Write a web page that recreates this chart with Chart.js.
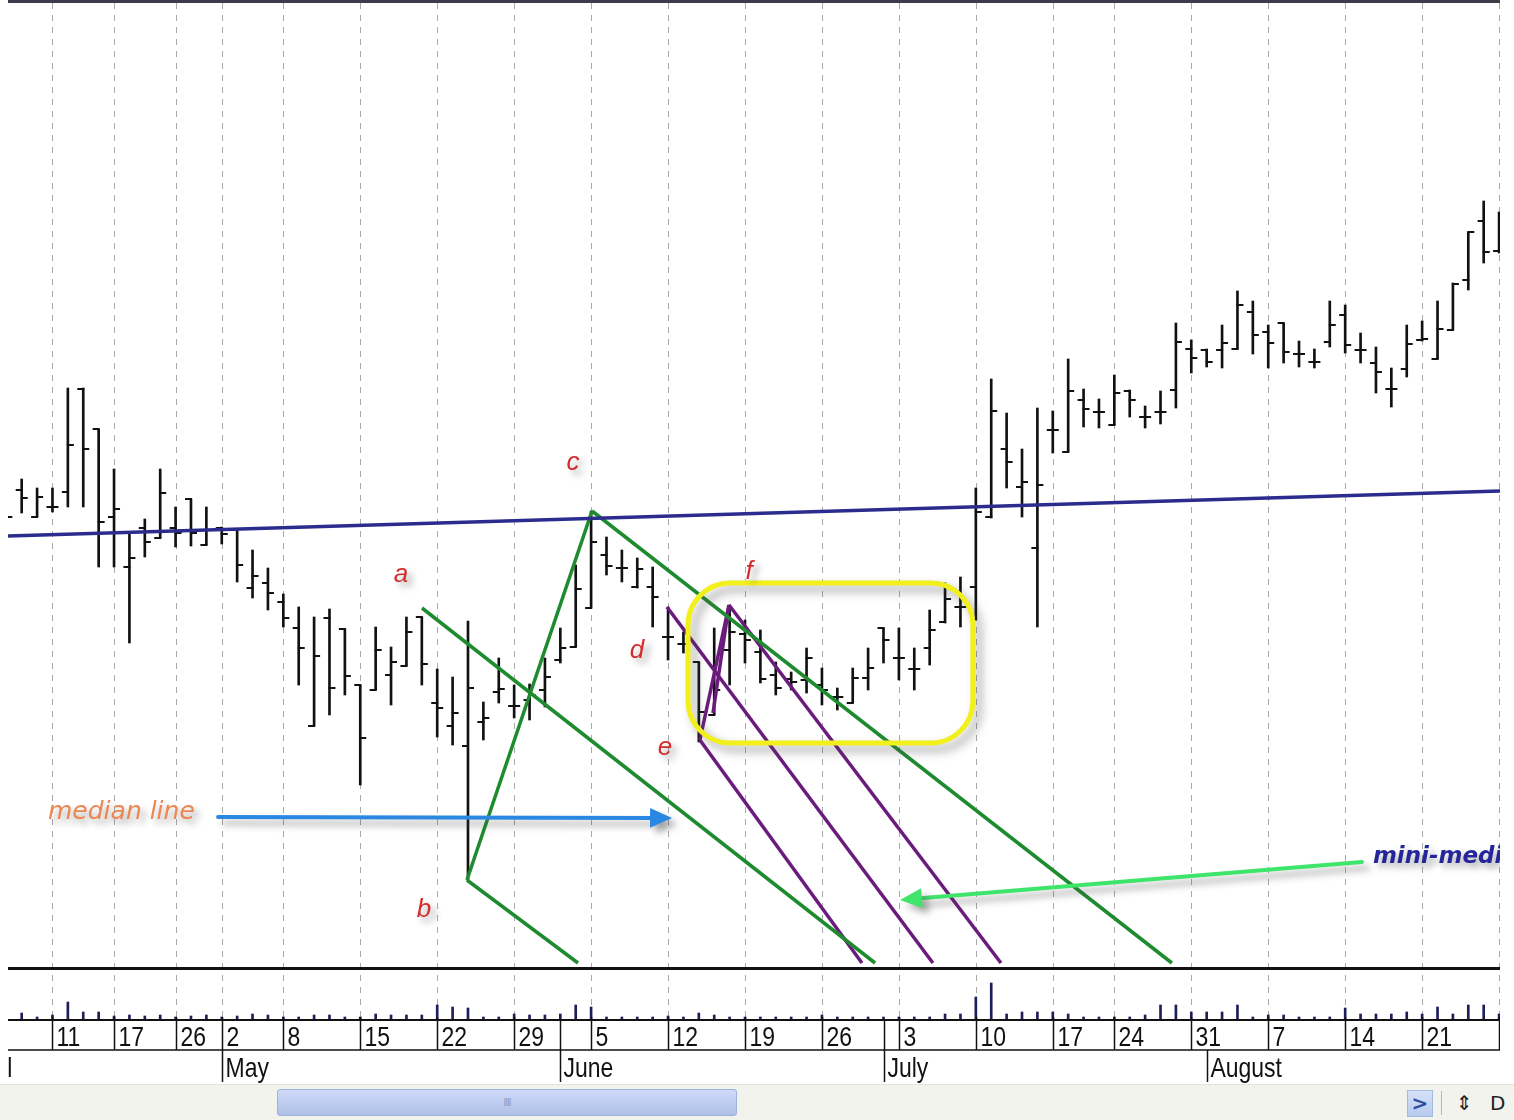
<!DOCTYPE html>
<html lang="en">
<head>
<meta charset="UTF-8">
<title>Median line</title>
<style>
    html, body { margin: 0; padding: 0; background: #fff; overflow: hidden; }
    body { width: 1514px; height: 1120px; position: relative; font-family: "Liberation Sans", Arial, sans-serif; }
    .chart-box { position: absolute; left: 0; top: 0; width: 1514px; height: 1085px; }
    .scroll-bar { position: absolute; left: 0; top: 1084px; width: 1514px; height: 36px; background: #f3f3ee; border-top: 1px solid #e3e3dd; }
    .thumb { position: absolute; left: 277px; top: 4px; width: 458px; height: 25px; border: 1px solid #9db1de; border-radius: 3px;
             background: linear-gradient(#cfdaf6, #aebfe8); color: #8c9cc6; font-size: 10px; line-height: 25px; text-align: center; letter-spacing: -1px; }
    .btn { position: absolute; left: 1407px; top: 5px; width: 24px; height: 25px; background: linear-gradient(#d6e2f8, #b7c9ee);
           border: 1px solid #a5b8e0; color: #2d4f9c; font: bold 20px "DejaVu Sans", sans-serif; line-height: 24px; text-align: center; }
    .sep { position: absolute; left: 1441px; top: 6px; width: 1px; height: 24px; background: #b9b9b2; }
    .tool { position: absolute; top: 4px; font: 20px "DejaVu Sans", sans-serif; color: #222; line-height: 28px; }
</style>
<script src="https://cdn.jsdelivr.net/npm/chart.js@4.4.1/dist/chart.umd.min.js"></script>
</head>
<body>
    <div class="chart-box"><canvas id="priceChart" width="1514" height="1085"></canvas></div>
    <div class="scroll-bar">
        <div class="thumb">IIII</div>
        <div class="btn">&gt;</div>
        <div class="sep"></div>
        <div class="tool" style="left:1456px">&#8661;</div>
        <div class="tool" style="left:1490px">D</div>
    </div>

<script>
// daily bars, one per trading day (index 0 = first bar on the left)
const opens  = [45.2,47.8,45.1,46.1,47.6,57.9,53.9,45.1,40.1,44.0,43.0,44.0,46.9,42.3,44.0,43.8,38.0,38.5,36.6,34.0,
                24.2,35.0,33.9,28.3,27.8,29.3,30.2,35.1,26.5,24.2,22.2,24.6,27.6,26.2,26.8,27.8,30.8,32.1,36.0,41.3,
                40.0,38.1,38.1,33.1,32.4,30.6,25.3,31.8,33.4,31.6,29.3,28.9,28.8,28.3,27.1,26.5,29.0,34.0,31.0,29.9,
                32.0,34.6,36.1,38.1,45.1,51.9,48.1,42.0,53.8,51.6,56.8,55.6,54.3,57.7,55.1,55.6,57.8,61.9,61.8,61.8,
                61.9,65.6,63.6,64.5,61.4,60.6,62.6,65.3,61.8,60.5,57.9,59.9,62.8,60.9,63.8,68.8,74.7,71.7];
const highs  = [45.7,48.9,48.0,48.0,58.0,58.0,53.9,49.9,43.6,44.9,49.9,46.1,46.9,46.1,44.1,43.8,41.8,40.0,37.4,36.1,
                35.1,35.9,33.9,28.3,34.1,32.1,35.1,35.1,29.9,29.1,34.7,26.6,31.0,28.3,28.4,31.0,34.0,40.3,45.7,43.1,
                41.8,41.0,40.1,36.1,33.6,30.6,34.0,36.3,34.8,33.8,30.6,29.6,32.0,30.0,28.0,30.0,32.0,34.0,34.0,32.0,
                35.8,38.5,39.1,48.0,58.9,55.5,51.9,56.0,55.7,60.9,57.9,56.9,59.3,57.8,56.2,57.7,64.5,62.8,61.9,64.3,
                67.7,66.7,64.3,64.5,62.7,61.9,66.7,66.3,63.5,62.1,60.0,64.3,64.7,66.7,68.5,73.6,76.7,75.6];
const lows   = [44.9,45.5,45.1,45.6,46.1,46.1,40.1,40.1,32.5,41.1,43.0,42.1,42.2,42.3,42.4,38.6,37.0,35.8,34.1,28.3,
                24.2,25.3,27.3,18.3,27.8,26.3,30.2,28.3,23.1,22.3,8.8,22.8,26.5,25.0,24.8,26.1,30.5,32.1,36.0,39.3,
                38.6,38.0,34.1,30.8,31.5,22.6,25.3,28.3,30.5,28.5,27.3,27.8,27.5,26.3,25.8,26.5,27.8,30.5,28.8,27.8,
                30.3,34.5,34.1,34.8,45.0,48.0,45.1,34.1,51.5,51.6,54.1,54.0,54.3,55.1,54.0,54.4,56.0,59.5,60.1,60.0,
                61.9,61.4,60.0,60.5,60.1,60.0,62.1,61.5,60.5,57.5,56.1,59.1,62.7,60.9,63.8,67.8,70.5,71.5];
const closes = [45.1,47.0,47.1,46.1,52.3,51.9,44.6,45.9,41.0,42.6,47.5,43.5,43.5,43.8,43.4,40.3,39.2,37.5,35.0,32.0,
                31.2,28.0,29.2,23.0,31.8,30.6,33.6,30.4,26.0,25.5,28.0,25.0,27.9,26.2,27.3,29.1,32.0,37.9,42.6,40.2,
                40.0,39.9,37.1,33.1,32.4,25.6,27.8,33.6,32.8,28.9,28.0,28.6,31.0,27.8,27.1,29.0,30.0,32.8,31.0,29.9,
                33.8,36.9,36.1,45.6,55.7,50.6,48.6,48.3,53.8,57.7,55.9,55.6,57.5,56.8,55.1,55.6,62.6,61.0,60.6,62.5,
                66.3,63.3,62.5,61.6,61.4,60.6,64.3,62.3,61.8,59.6,57.9,62.4,62.9,63.9,68.4,73.6,71.6,71.6];
const volumes = [3,7,3,5,18,8,8,4,5,4,5,3,4,5,3,4,6,5,3,3,
                 5,5,3,3,6,5,5,5,15,13,12,3,3,6,5,5,6,15,13,3,
                 3,3,3,4,3,7,5,3,3,3,3,3,3,5,3,3,3,3,3,3,
                 3,6,6,23,37,6,8,8,8,6,3,3,3,3,5,15,15,8,8,8,
                 15,3,5,5,3,3,3,12,6,6,6,8,6,13,6,15,15,6];

// time axis: weekly day labels and month starts (bar index)
const dayTickIdx = [3,7,11,14,18,23,28,33,38,43,48,53,58,63,68,72,77,82,87,92,97];
const dayTickLbl = ['11','17','26','2','8','15','22','29','5','12','19','26','3','10','17','24','31','7','14','21','28'];
const monthIdx   = [-2.8,14,36,57,78];
const monthLbl   = ['April','May','June','July','August'];
const monthFull  = [false,false,true,true,false];

// drawn studies: [x1, y1, x2, y2] in (bar index, price)
const trendLine   = [0.11,43.2,97.06,47.7];
const greenFork   = [[27.01,36.0,56.45,0.5],[29.93,8.8,38.06,45.7],[38.06,45.7,75.74,0.5],[29.93,8.8,37.15,0.5]];
const purpleFork  = [[42.93,36.1,60.21,0.5],[45.07,22.8,55.6,0.5],[46.96,36.3,64.63,0.5],[45.07,22.8,46.96,36.3],[45.92,25.5,46.96,36.3]];
const pivotLbl    = ['a','b','c','d','e','f'];
const pivotIdx    = [25.65,27.14,36.82,40.98,42.8,48.26];
const pivotPrice  = [39.3,5.8,50.5,31.7,22.0,39.6];
const boxArea     = [44.3,38.5,62.81,22.5];
const blueArrow   = [13.76,15.1,43.26,15.0];
const greenArrow  = [88.09,10.6,58.07,6.8];

function seg(s, color) {
    return {
        type: 'line', data: [{ x: s[0], y: s[1] }, { x: s[2], y: s[3] }],
        borderColor: color, borderWidth: 3.5, pointRadius: 0, fill: false, yAxisID: 'y', order: 1
    };
}

function arrow(ctx, x1, y1, x2, y2, color, w, head) {
    const ang = Math.atan2(y2 - y1, x2 - x1);
    ctx.strokeStyle = color; ctx.fillStyle = color; ctx.lineWidth = w; ctx.lineCap = 'round';
    ctx.beginPath();
    ctx.moveTo(x1, y1);
    ctx.lineTo(x2 - Math.cos(ang) * head * 0.8, y2 - Math.sin(ang) * head * 0.8);
    ctx.stroke();
    ctx.beginPath();
    ctx.moveTo(x2, y2);
    ctx.lineTo(x2 - Math.cos(ang) * head + Math.sin(ang) * head * 0.45, y2 - Math.sin(ang) * head - Math.cos(ang) * head * 0.45);
    ctx.lineTo(x2 - Math.cos(ang) * head - Math.sin(ang) * head * 0.45, y2 - Math.sin(ang) * head + Math.cos(ang) * head * 0.45);
    ctx.closePath();
    ctx.fill();
}

function shadow(ctx, blur, off, alpha) {
    ctx.shadowColor = 'rgba(70,70,70,' + alpha + ')';
    ctx.shadowBlur = blur; ctx.shadowOffsetX = off; ctx.shadowOffsetY = off;
}

const decor = {
    id: 'decor',
    beforeDatasetsDraw(chart) {
        const { ctx, chartArea: a, scales: { x } } = chart;
        ctx.save();
        ctx.strokeStyle = '#a9a9a9'; ctx.lineWidth = 1; ctx.setLineDash([6, 6]);
        dayTickIdx.forEach(i => {
            const px = Math.round(x.getPixelForValue(i)) + 0.5;
            ctx.beginPath(); ctx.moveTo(px, a.top); ctx.lineTo(px, a.bottom); ctx.stroke();
        });
        ctx.restore();
    },
    afterDatasetDraw(chart, args) {
        if (chart.data.datasets[args.index].label !== 'Price') return;
        const { ctx, chartArea: a, scales: { x, y } } = chart;
        ctx.save();
        ctx.beginPath(); ctx.rect(a.left, a.top, a.right - a.left, a.bottom - a.top); ctx.clip();
        ctx.strokeStyle = '#111'; ctx.lineWidth = 2;
        opens.forEach((o, i) => {
            const cx = x.getPixelForValue(i);
            const yo = Math.round(y.getPixelForValue(o));
            const yc = Math.round(y.getPixelForValue(closes[i]));
            ctx.beginPath(); ctx.moveTo(cx - 6, yo); ctx.lineTo(cx + 1, yo); ctx.stroke();
            ctx.beginPath(); ctx.moveTo(cx - 1, yc); ctx.lineTo(cx + 6, yc); ctx.stroke();
        });
        ctx.restore();
    },
    afterDatasetsDraw(chart) {
        const { ctx, chartArea: a, scales: { x, y } } = chart;
        const P = (i, p) => [x.getPixelForValue(i), y.getPixelForValue(p)];
        ctx.save();
        ctx.beginPath(); ctx.rect(a.left, a.top, a.right - a.left, a.bottom - a.top); ctx.clip();

        // highlight box
        const [bx1, by1] = P(boxArea[0], boxArea[1]);
        const [bx2, by2] = P(boxArea[2], boxArea[3]);
        ctx.save();
        shadow(ctx, 10, 6, 0.5);
        ctx.strokeStyle = '#f2f01c'; ctx.lineWidth = 5;
        ctx.beginPath(); ctx.roundRect(bx1, by1, bx2 - bx1, by2 - by1, 42); ctx.stroke();
        ctx.restore();

        // arrows
        ctx.save();
        shadow(ctx, 7, 6, 0.45);
        let p1 = P(blueArrow[0], blueArrow[1]), p2 = P(blueArrow[2], blueArrow[3]);
        arrow(ctx, p1[0], p1[1], p2[0], p2[1], '#2a88e2', 4, 22);
        p1 = P(greenArrow[0], greenArrow[1]); p2 = P(greenArrow[2], greenArrow[3]);
        arrow(ctx, p1[0], p1[1], p2[0], p2[1], '#3fe46b', 4, 22);
        ctx.restore();

        // texts
        ctx.save();
        shadow(ctx, 6, 5, 0.45);
        ctx.textBaseline = 'middle';
        ctx.font = 'italic 26px "Liberation Sans", Arial, sans-serif';
        ctx.fillStyle = '#d42c2c'; ctx.textAlign = 'center';
        pivotLbl.forEach((t, k) => {
            const [tx, ty] = P(pivotIdx[k], pivotPrice[k]);
            ctx.fillText(t, tx, ty);
        });
        ctx.textAlign = 'left';
        ctx.font = 'italic 25px "DejaVu Sans"';
        ctx.fillStyle = '#ec8752';
        let tp = P(2.71, 15.6);
        ctx.fillText('median line', tp[0], tp[1]);
        ctx.font = 'bold italic 23px "DejaVu Sans"';
        ctx.fillStyle = '#26269c';
        tp = P(88.8, 11.1);
        ctx.fillText('mini-median line', tp[0], tp[1]);
        ctx.restore();
        ctx.restore();

        // panel frame lines
        const yBot = Math.round(y.getPixelForValue(0));
        ctx.save();
        ctx.strokeStyle = '#3c3c4a'; ctx.lineWidth = 3;
        ctx.beginPath(); ctx.moveTo(a.left, 1.5); ctx.lineTo(a.right, 1.5); ctx.stroke();
        ctx.strokeStyle = '#111';
        ctx.beginPath(); ctx.moveTo(a.left, yBot + 0.5); ctx.lineTo(a.right, yBot + 0.5); ctx.stroke();
        ctx.restore();
    },
    afterDraw(chart) {
        const { ctx, chartArea: a, scales: { x } } = chart;
        const rowTop = a.bottom, rowMid = a.bottom + 30, rowBot = a.bottom + 62;
        ctx.save();
        ctx.beginPath(); ctx.rect(a.left, rowTop - 5, a.right - a.left, rowBot - rowTop + 6); ctx.clip();
        ctx.strokeStyle = '#111'; ctx.fillStyle = '#111';
        ctx.lineWidth = 2;
        ctx.beginPath(); ctx.moveTo(a.left, rowTop); ctx.lineTo(a.right, rowTop); ctx.stroke();
        ctx.lineWidth = 1.5;
        ctx.beginPath(); ctx.moveTo(a.left, rowMid); ctx.lineTo(a.right, rowMid); ctx.stroke();
        ctx.font = '28px "Liberation Sans", Arial, sans-serif';
        ctx.textBaseline = 'alphabetic'; ctx.textAlign = 'left';
        dayTickIdx.forEach((i, k) => {
            const px = Math.round(x.getPixelForValue(i)) + 0.5;
            ctx.beginPath(); ctx.moveTo(px, rowTop - 3); ctx.lineTo(px, rowMid); ctx.stroke();
            ctx.save(); ctx.translate(px + 4, rowMid - 4); ctx.scale(0.82, 1);
            ctx.fillText(dayTickLbl[k], 0, 0); ctx.restore();
        });
        monthIdx.forEach((i, k) => {
            const px = Math.round(x.getPixelForValue(i)) + 0.5;
            ctx.beginPath(); ctx.moveTo(px, monthFull[k] ? rowTop : rowMid); ctx.lineTo(px, rowBot); ctx.stroke();
            ctx.save(); ctx.translate(px + 3, rowBot - 5); ctx.scale(0.82, 1);
            ctx.fillText(monthLbl[k], 0, 0); ctx.restore();
        });
        ctx.restore();
    }
};

const ctx = document.getElementById('priceChart').getContext('2d');
new Chart(ctx, {
    type: 'bar',
    data: {
        datasets: [
            seg(trendLine, '#2c2c8e'),
            ...greenFork.map(s => seg(s, '#1f8b2f')),
            ...purpleFork.map(s => seg(s, '#6a1c7c')),
            {
                label: 'Price', data: highs.map((h, i) => ({ x: i, y: [lows[i], h] })),
                backgroundColor: '#111', barThickness: 2, grouped: false, yAxisID: 'y', order: 2
            },
            {
                label: 'Volume', data: volumes.map((v, i) => ({ x: i, y: v })),
                backgroundColor: '#1e1e5a', barThickness: 2, grouped: false, yAxisID: 'yVol', order: 3
            }
        ]
    },
    options: {
        responsive: false,
        animation: false,
        devicePixelRatio: 1,
        layout: { padding: { left: 8, right: 14, top: 3, bottom: 65 } },
        plugins: { legend: { display: false }, tooltip: { enabled: false } },
        scales: {
            x: { type: 'linear', min: 0.11, max: 97.06, offset: false, display: false },
            y: { min: -5.2, max: 96.5, display: false },
            yVol: { min: 0, max: 1017, display: false }
        }
    },
    plugins: [decor]
});
</script>
</body>
</html>
